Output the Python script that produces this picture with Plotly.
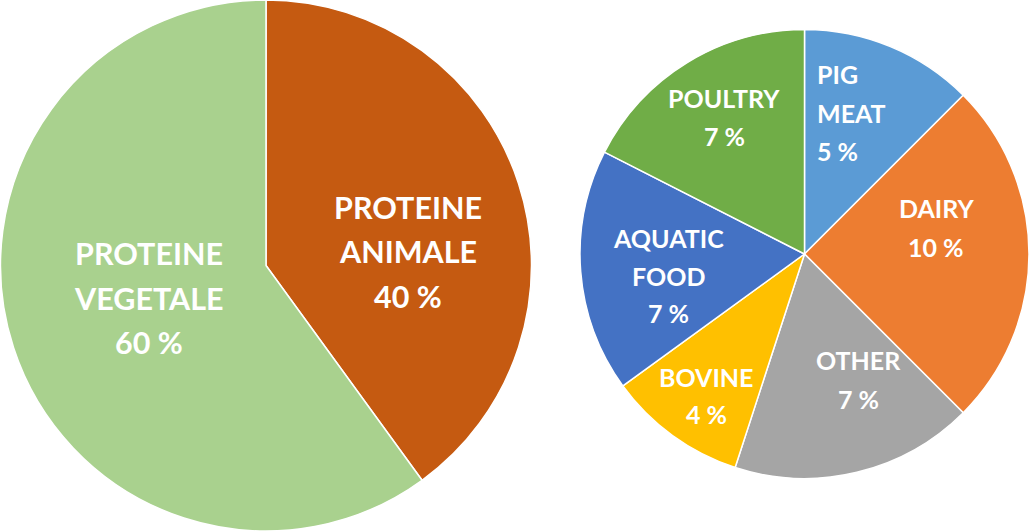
import plotly.graph_objects as go

# Left pie
left_labels = ["PROTEINE ANIMALE", "PROTEINE VEGETALE"]
left_values = [40, 60]
left_colors = ["#C55A11", "#A9D18E"]

# Right pie (breakdown of animal protein, % of total)
right_labels = ["PIG MEAT", "DAIRY", "OTHER", "BOVINE", "AQUATIC FOOD", "POULTRY"]
right_values = [5, 10, 7, 4, 7, 7]
right_colors = ["#5B9BD5", "#ED7D31", "#A5A5A5", "#FFC000", "#4472C4", "#70AD47"]

# label line splits (display text)
left_lines = [["PROTEINE", "ANIMALE"], ["PROTEINE", "VEGETALE"]]
right_lines = [["PIG", "MEAT"], ["DAIRY"], ["OTHER"], ["BOVINE"], ["AQUATIC", "FOOD"], ["POULTRY"]]

W, H = 1029, 531
FONT = "Lato"

fig = go.Figure()
fig.add_trace(go.Pie(
    labels=left_labels, values=left_values, sort=False, direction="clockwise",
    marker=dict(colors=left_colors, line=dict(color="white", width=1.5)),
    textinfo="none", hoverinfo="label+percent",
    domain=dict(x=[0, 532 / W], y=[0, 1]), showlegend=False,
))
fig.add_trace(go.Pie(
    labels=right_labels, values=right_values, sort=False, direction="clockwise",
    marker=dict(colors=right_colors, line=dict(color="white", width=1.5)),
    textinfo="none", hoverinfo="label+value",
    domain=dict(x=[580 / W, 1], y=[52 / H, 502 / H]), showlegend=False,
))

# label placement (pixel positions of line centers): (x, first line y, spacing, align)
left_pos = [(408, 207, 44.5, "center"), (149, 253, 44.5, "center")]
right_pos = [
    (815, 74, 38.5, "left"),
    (936, 208, 38.5, "center"),
    (858, 360, 38.5, "center"),
    (706, 377, 37, "center"),
    (668, 238, 37.5, "center"),
    (724, 98, 38, "center"),
]

annotations = []

def add_label(lines, value, pos, size):
    x, y0, dy, align = pos
    all_lines = lines + [f"{value} %"]
    for i, t in enumerate(all_lines):
        y = y0 + i * dy
        annotations.append(dict(
            text=t, x=x / W, y=1 - y / H, xref="paper", yref="paper",
            xanchor="left" if align == "left" else "center", yanchor="middle",
            showarrow=False,
            font=dict(family=FONT, size=size, color="white", weight="bold"),
        ))

for lines, v, p in zip(left_lines, left_values, left_pos):
    add_label(lines, v, p, 30.5)
for lines, v, p in zip(right_lines, right_values, right_pos):
    add_label(lines, v, p, 25)

fig.update_layout(
    width=W, height=H, margin=dict(l=0, r=0, t=0, b=0),
    paper_bgcolor="white", plot_bgcolor="white",
    annotations=annotations,
)

fig.write_html(
    "out.html",
    config={"displayModeBar": False},
    post_script="document.body.style.margin='0';document.body.style.overflow='hidden';",
)
